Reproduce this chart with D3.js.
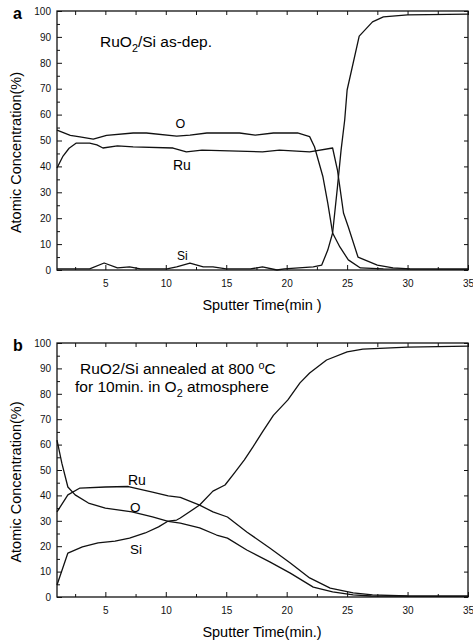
<!DOCTYPE html>
<html>
<head>
<meta charset="utf-8">
<script src="https://cdn.jsdelivr.net/npm/d3@7"></script>
<style>
  body { margin: 0; background: #fff; }
  svg { display: block; font-family: "Liberation Sans", Arial, sans-serif; }
  .tick text { font-size: 10px; fill: #111; }
  .tick line { stroke: #111; stroke-width: 1; }
  .curve { fill: none; stroke: #111; stroke-width: 1.3; stroke-linejoin: round; }
</style>
</head>
<body>
<svg width="473" height="644"></svg>
<script>
// ---- data: [sputter time (min), atomic concentration (%)]
var xTicks = [5, 10, 15, 20, 25, 30, 35];
var xMinor = [2.5, 7.5, 12.5, 17.5, 22.5, 27.5, 32.5];
var yTicks = [0, 10, 20, 30, 40, 50, 60, 70, 80, 90, 100];
var yMinor = [5, 15, 25, 35, 45, 55, 65, 75, 85, 95];

// panel a : as-deposited
var aO = [[1,54],[2.1,52],[2.9,51.4],[4,50.5],[5.1,52],[7.3,52.9],[8.4,52.9],[10.9,51.7],[12,52.1],
  [13.4,52.9],[16.1,52.9],[17.4,52.1],[18.9,52.9],[20.9,52.9],[21.9,51.5],[22.3,47.6],[23,36],
  [23.4,25.8],[23.8,14.3],[24.4,8.9],[25.1,3.9],[26.1,0.8],[28,0.4],[35,0.3]];
var aRu = [[1,39.4],[1.5,44],[2,47],[2.6,49],[3.7,49],[4.3,48.3],[4.8,47.1],[6,47.9],[7.3,47.5],
  [10.6,47.1],[11.7,45.6],[13,46.3],[18,45.6],[19.4,46.3],[21.9,45.6],[23.8,47.1],[24.2,38.6],
  [24.4,32],[24.7,22],[25.1,16.6],[25.9,5],[27.5,1.9],[28.8,0.8],[30.2,0.4],[35,0.3]];
var aSi = [[1,0.4],[3.7,0.4],[4.9,2.7],[6,0.8],[7,1.2],[7.9,0.4],[10.1,0.4],[10.9,1.2],[12,2.7],
  [13.1,1.2],[13.9,1.2],[15,0.4],[17,0.4],[18,1.2],[19.2,0],[19.8,0.4],[22.2,1.2],[22.9,1.9],
  [23.4,7.7],[23.8,14.3],[24.2,32],[24.5,46.3],[24.8,57.9],[25,69.5],[26,90.3],[27.1,95.8],
  [28,97.7],[30,98.5],[35,98.8]];

// panel b : annealed 800 C
var bO = [[1,61.8],[1.4,52.7],[1.9,43.3],[2.5,40.2],[3.6,37],[5,35],[7.2,33.5],[8.9,31.5],
  [10.2,29.8],[11.2,29.1],[12.8,27.2],[14.2,24.4],[15.1,23.2],[16.7,18.5],[18.6,13.8],[20.3,9.4],
  [22.2,3.9],[23.8,2],[25.5,0.8],[27,0.4],[35,0.3]];
var bRu = [[1,33.5],[1.9,40.2],[2.9,42.9],[5,43.3],[6.9,43.5],[8.9,41.3],[10.2,39.8],[11.2,39.2],
  [12.8,36.2],[13.9,33.5],[15.1,31.5],[16.7,25.6],[18.6,19.3],[20.3,13.4],[21.9,7.5],[23.6,3.5],
  [25.5,1.6],[27.1,0.8],[30,0.4],[35,0.3]];
var bSi = [[1,4.7],[1.9,17.3],[3.1,19.7],[4.4,21.3],[5.8,22],[7,23.2],[8.3,25.2],[9.4,27.6],
  [10.2,29.9],[10.9,30.3],[11.2,31.1],[12.8,36.2],[13.9,41.7],[14.9,44.1],[15.7,49],[16.5,54],
  [17.2,59],[18,65],[18.9,71.5],[20.1,77.6],[21.1,84.3],[21.9,88.2],[23.3,93.3],[25,96.5],
  [26.3,97.6],[30,98.4],[35,98.8]];

var svg = d3.select("svg");
var left = 57, right = 468;

function drawPanel(top, bottom, series, letter, xTitle) {
  var x = d3.scaleLinear().domain([1, 35]).range([left, right]);
  var y = d3.scaleLinear().domain([0, 100]).range([bottom, top]);
  var g = svg.append("g");

  // ticks, all pointing inward
  g.append("g").attr("transform", "translate(0," + bottom + ")")
    .call(d3.axisBottom(x).tickValues(xTicks).tickSize(-5).tickPadding(10).tickFormat(d3.format("d")));
  g.append("g").attr("transform", "translate(0," + bottom + ")")
    .call(d3.axisBottom(x).tickValues(xMinor).tickSize(-3).tickFormat(""));
  g.append("g").attr("transform", "translate(0," + top + ")")
    .call(d3.axisTop(x).tickValues(xTicks.concat(xMinor)).tickSize(-4).tickFormat(""));
  g.append("g").attr("transform", "translate(" + left + ",0)")
    .call(d3.axisLeft(y).tickValues(yTicks).tickSize(-5).tickPadding(6));
  g.append("g").attr("transform", "translate(" + left + ",0)")
    .call(d3.axisLeft(y).tickValues(yMinor).tickSize(-3).tickFormat(""));
  g.append("g").attr("transform", "translate(" + right + ",0)")
    .call(d3.axisRight(y).tickValues(yTicks).tickSize(-4).tickFormat(""));
  g.selectAll(".domain").remove();

  g.append("rect")
    .attr("x", left).attr("y", top)
    .attr("width", right - left).attr("height", bottom - top)
    .attr("fill", "none").attr("stroke", "#111").attr("stroke-width", 1.3);

  var line = d3.line()
    .x(function(d) { return x(d[0]); })
    .y(function(d) { return y(d[1]); });

  series.forEach(function(s) {
    g.append("path").datum(s).attr("class", "curve").attr("d", line);
  });

  g.append("text").attr("x", 13).attr("y", top + 8)
    .style("font-size", "16px").style("font-weight", "bold").text(letter);

  g.append("text")
    .attr("transform", "translate(21," + ((top + bottom) / 2 + 12) + ") rotate(-90)")
    .attr("text-anchor", "middle").style("font-size", "14.5px")
    .text("Atomic Concentration(%)");

  g.append("text").attr("x", 262).attr("y", bottom + 40)
    .attr("text-anchor", "middle").style("font-size", "14.5px").text(xTitle);

  return g;
}

function label(g, px, py, size, parts) {
  var t = g.append("text").attr("x", px).attr("y", py).style("font-size", size + "px");
  parts.forEach(function(p) {
    var s = t.append("tspan").text(p[0]);
    if (p[1] === "sub") s.attr("dy", 5).style("font-size", (size * 0.7) + "px");
    if (p[1] === "back") s.attr("dy", -5);
    if (p[1] === "sup") s.attr("dy", -5).style("font-size", (size * 0.7) + "px");
    if (p[1] === "down") s.attr("dy", 5);
  });
  return t;
}

var ga = drawPanel(11, 270, [aO, aRu, aSi], "a", "Sputter Time(min )");
label(ga, 100, 47, 15.5, [["RuO"], ["2", "sub"], ["/Si as-dep.", "back"]]);
label(ga, 175.5, 128, 12.5, [["O"]]);
label(ga, 173, 170, 14, [["Ru"]]);
label(ga, 177, 260, 12, [["Si"]]);

var gb = drawPanel(343, 597, [bO, bRu, bSi], "b", "Sputter Time(min.)");
label(gb, 80, 374, 15.5, [["RuO2/Si annealed at 800 "], ["o", "sup"], ["C", "down"]]);
label(gb, 75, 392, 15.5, [["for 10min. in O"], ["2", "sub"], [" atmosphere", "back"]]);
label(gb, 128, 485, 14, [["Ru"]]);
label(gb, 130, 512, 13.5, [["O"]]);
label(gb, 130, 554, 13.5, [["Si"]]);
</script>
</body>
</html>
